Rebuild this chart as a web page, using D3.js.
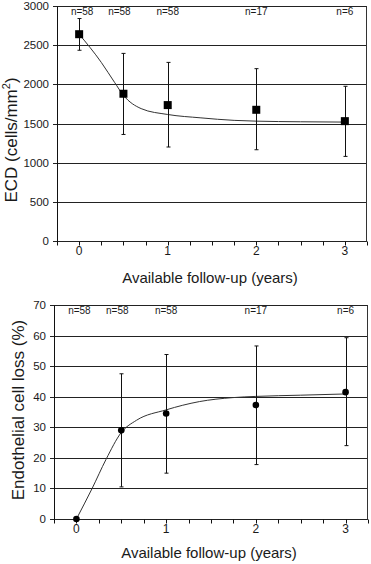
<!DOCTYPE html>
<meta charset="utf-8">
<script src="https://d3js.org/d3.v7.min.js"></script>
<style>
  body { margin: 0; background: #fff; }
  text { font-family: "Liberation Sans", Arial, sans-serif; fill: #1a1a1a; }
</style>
<div id="my_dataviz"></div>
<script>

// follow-up times (years) and group sizes
var years = [0, 0.5, 1, 2, 3];
var nLabels = ["n=58", "n=58", "n=58", "n=17", "n=6"];

// top panel: endothelial cell density
var ecdMean = [2640, 1880, 1735, 1675, 1530];
var ecdLow  = [2435, 1360, 1200, 1165, 1080];
var ecdHigh = [2840, 2395, 2280, 2200, 1975];
var ecdFitX = [0, 0.25, 0.4, 0.5, 0.7, 1, 1.375, 1.75, 2, 2.5, 3];
var ecdFitY = [2640, 2280, 2025, 1860, 1690, 1615, 1572, 1540, 1530, 1522, 1518];
var ecdTicks = [0, 500, 1000, 1500, 2000, 2500, 3000];

// bottom panel: endothelial cell loss
var lossMean = [0, 29, 34.5, 37.3, 41.5];
var lossLow  = [null, 10.5, 15, 17.8, 24];
var lossHigh = [null, 47.5, 53.8, 56.6, 59.3];
var lossFitX = [0, 0.175, 0.33, 0.5, 0.67, 1, 1.37, 1.74, 2, 2.5, 3];
var lossFitY = [0, 10, 19.5, 28.3, 32.3, 35.7, 38.4, 39.7, 40.1, 40.5, 40.9];
var lossTicks = [0, 10, 20, 30, 40, 50, 60, 70];

var xTicks = d3.range(-0.25, 3.26, 0.25);
var xLabels = [0, 1, 2, 3];

var W = 371, H = 564;
var svg = d3.select("#my_dataviz")
  .append("svg")
    .attr("width", W)
    .attr("height", H);

function panel(opt) {
  var x = d3.scaleLinear().domain([-0.25, 3.25]).range([opt.left, opt.right]);
  var y = d3.scaleLinear().domain([opt.ticks[0], opt.ticks[opt.ticks.length - 1]]).range([opt.bottom, opt.top]);
  var g = svg.append("g");

  // horizontal gridlines (also make the little y ticks)
  g.selectAll(".grid")
    .data(opt.ticks)
    .enter()
    .append("line")
      .attr("x1", opt.left - 4)
      .attr("x2", opt.right)
      .attr("y1", function(d){ return Math.round(y(d)) + 0.5 })
      .attr("y2", function(d){ return Math.round(y(d)) + 0.5 })
      .style("stroke", "#222")
      .style("stroke-width", 1)

  // right border
  g.append("line")
    .attr("x1", opt.right - 0.5).attr("x2", opt.right - 0.5)
    .attr("y1", Math.round(y.range()[1]) + 0.5).attr("y2", Math.round(y.range()[0]) + 0.5)
    .style("stroke", "#333")

  // y labels
  g.selectAll(".ylab")
    .data(opt.ticks)
    .enter()
    .append("text")
      .attr("x", opt.left - 8)
      .attr("y", function(d){ return y(d) + 4 })
      .attr("text-anchor", "end")
      .attr("font-size", "11.5px")
      .text(function(d){ return d })

  // y axis line
  g.append("line")
    .attr("x1", opt.left + 0.5).attr("x2", opt.left + 0.5)
    .attr("y1", Math.round(y.range()[1]) + 0.5).attr("y2", Math.round(y.range()[0]) + 0.5)
    .style("stroke", "#111")

  // x axis ticks
  g.selectAll(".xtick")
    .data(xTicks)
    .enter()
    .append("line")
      .attr("x1", function(d){ return Math.round(x(d)) + 0.5 })
      .attr("x2", function(d){ return Math.round(x(d)) + 0.5 })
      .attr("y1", Math.round(opt.bottom) + 0.5)
      .attr("y2", Math.round(opt.bottom) + 4.5)
      .style("stroke", "#111")

  g.selectAll(".xlab")
    .data(xLabels)
    .enter()
    .append("text")
      .attr("x", function(d){ return x(d) })
      .attr("y", opt.bottom + 14)
      .attr("text-anchor", "middle")
      .attr("font-size", "12px")
      .text(function(d){ return d })

  // x title
  g.append("text")
    .attr("x", (opt.left + opt.right) / 2 - 2)
    .attr("y", opt.bottom + opt.xTitleGap)
    .attr("text-anchor", "middle")
    .attr("font-size", "15px")
    .text("Available follow-up (years)")

  // y title
  var yt = g.append("text")
    .attr("transform", "translate(" + opt.titleX + "," + opt.titleY + ") rotate(-90)")
    .attr("text-anchor", "middle")
    .attr("font-size", "17px")
  opt.title(yt)

  // n= labels
  var nudge = [3, -4, 0, 0, 0];
  g.selectAll(".nlab")
    .data(nLabels)
    .enter()
    .append("text")
      .attr("x", function(d, i){ return x(years[i]) + nudge[i] })
      .attr("y", opt.top + 9)
      .attr("text-anchor", "middle")
      .attr("font-size", "10px")
      .text(function(d){ return d })

  // fitted curve
  var line = d3.line()
    .x(function(d){ return x(d[0]) })
    .y(function(d){ return y(d[1]) })
    .curve(d3.curveMonotoneX)
  g.append("path")
    .datum(opt.fitX.map(function(v, i){ return [v, opt.fitY[i]] }))
    .attr("d", line)
    .style("fill", "none")
    .style("stroke", "#333")
    .style("stroke-width", 1)

  // error bars
  var bars = years.map(function(v, i){ return {x: v, lo: opt.low[i], hi: opt.high[i]} })
    .filter(function(d){ return d.lo != null })
  g.selectAll(".eb")
    .data(bars)
    .enter()
    .append("path")
      .attr("d", function(d){
        var cx = Math.round(x(d.x)) + 0.5;
        return "M" + cx + "," + y(d.hi) + "V" + y(d.lo) +
               "M" + (cx - 2) + "," + y(d.hi) + "H" + (cx + 2) +
               "M" + (cx - 2) + "," + y(d.lo) + "H" + (cx + 2);
      })
      .style("stroke", "#111")
      .style("fill", "none")

  // markers
  var pts = years.map(function(v, i){ return [v, opt.mean[i]] })
  if (opt.square) {
    g.selectAll(".pt")
      .data(pts)
      .enter()
      .append("rect")
        .attr("x", function(d){ return x(d[0]) - 4 })
        .attr("y", function(d){ return y(d[1]) - 4 })
        .attr("width", 8)
        .attr("height", 8)
        .style("fill", "#000")
  } else {
    g.selectAll(".pt")
      .data(pts)
      .enter()
      .append("circle")
        .attr("cx", function(d){ return x(d[0]) })
        .attr("cy", function(d){ return y(d[1]) })
        .attr("r", 3.3)
        .style("fill", "#000")
  }
}

panel({
  left: 57, right: 367, top: 6, bottom: 241, titleX: 17, titleY: 140, xTitleGap: 42,
  ticks: ecdTicks, mean: ecdMean, low: ecdLow, high: ecdHigh,
  fitX: ecdFitX, fitY: ecdFitY, square: true,
  title: function(t) {
    t.append("tspan").text("ECD (cells/mm");
    t.append("tspan").attr("dy", -7).attr("font-size", "11px").text("2");
    t.append("tspan").attr("dy", 7).text(")");
  }
});

panel({
  left: 54, right: 368, top: 305, bottom: 519, titleX: 24, titleY: 410, xTitleGap: 39,
  ticks: lossTicks, mean: lossMean, low: lossLow, high: lossHigh,
  fitX: lossFitX, fitY: lossFitY, square: false,
  title: function(t) { t.text("Endothelial cell loss (%)") }
});

</script>
